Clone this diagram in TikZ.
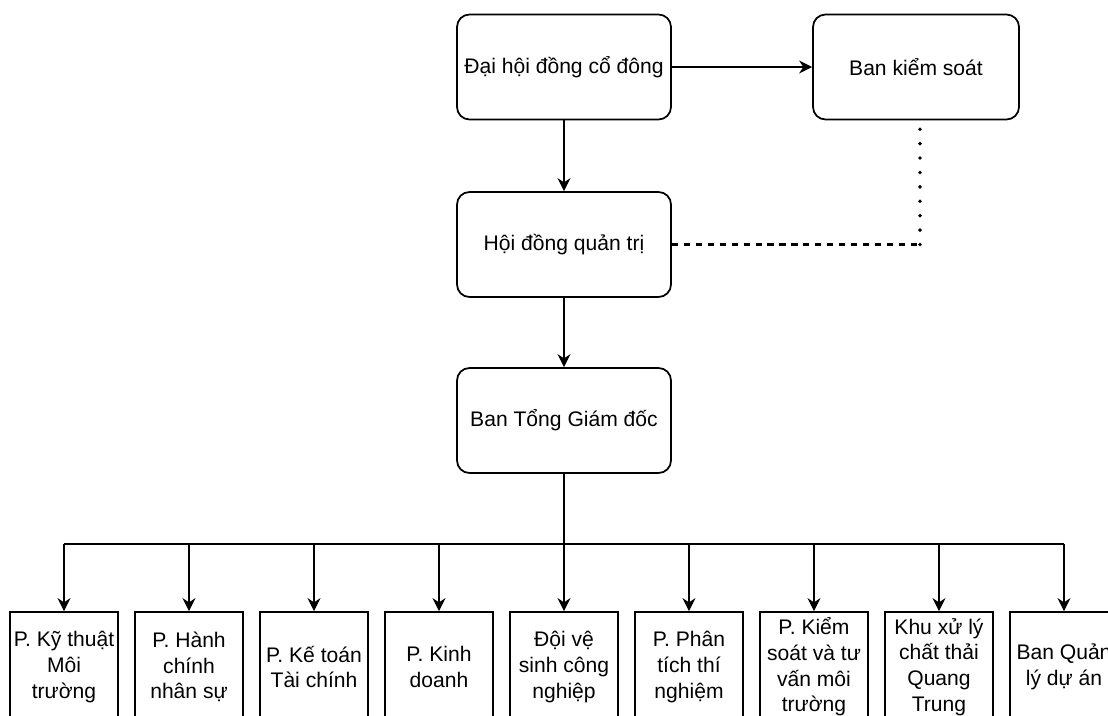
\documentclass[tikz,border=0pt]{standalone}
\usepackage{fontspec}
\setmainfont{Liberation Sans}
\usetikzlibrary{arrows.meta}
\tikzset{rbox/.style={rectangle,draw,rounded corners=0.25cm,minimum width=4.28cm,minimum height=2.1cm,line width=1pt,font=\fontsize{12}{14.8}\selectfont}}
\tikzset{pbox/.style={rectangle,draw,minimum width=2.16cm,minimum height=2.2cm,inner sep=0pt,align=center,line width=1pt,font=\fontsize{12}{14.6}\selectfont}}

\begin{document}
\begin{tikzpicture}[>={Stealth[length=2.6mm,width=2.6mm]},line width=0.8pt]
    \useasboundingbox (0,0) rectangle (22.16,-14.32);
    \node[rbox] (dh) at (11.28,-1.34) {Đại hội đồng cổ đông};
    \node[rbox,minimum width=4.12cm] (ks) at (18.32,-1.34) {Ban kiểm soát};
    \node[rbox] (hd) at (11.28,-4.89) {Hội đồng quản trị};
    \node[rbox] (tgd) at (11.28,-8.41) {Ban Tổng Giám đốc};
    \coordinate (bus) at (11.28,-10.88);
    \coordinate (kn) at (18.4,-4.89);

    \node[pbox] (p1) at (1.28,-13.34) {P. Kỹ thuật\\Môi\\trường};
    \node[pbox] (p2) at (3.78,-13.34) {P. Hành\\chính\\nhân sự};
    \node[pbox] (p3) at (6.28,-13.34) {P. Kế toán\\Tài chính};
    \node[pbox] (p4) at (8.78,-13.34) {P. Kinh\\doanh};
    \node[pbox] (p5) at (11.28,-13.34) {Đội vệ\\sinh công\\nghiệp};
    \node[pbox] (p6) at (13.78,-13.34) {P. Phân\\tích thí\\nghiệm};
    \node[pbox] (p7) at (16.28,-13.34) {P. Kiểm\\soát và tư\\vấn môi\\trường};
    \node[pbox] (p8) at (18.78,-13.34) {Khu xử lý\\chất thải\\Quang\\Trung};
    \node[pbox] (p9) at (21.28,-13.34) {Ban Quản\\lý dự án};

    \draw [->] (dh) to [] (ks);
    \draw [->] (dh) to [] (hd);
    \draw [->] (hd) to [] (tgd);
    \draw [line width=1.3pt,dash pattern=on 3.5pt off 3.3pt] (hd) to [] (kn);
    \draw [line width=2.2pt,line cap=round,dash pattern=on 0pt off 8.2pt,shorten >=0.12cm] (kn) to [] (kn |- ks.south);
    \draw [] (tgd) to [] (bus);
    \draw [] (p1.north |- bus) to [] (p9.north |- bus);
    \draw [->] (p1.north |- bus) to [] (p1);
    \draw [->] (p2.north |- bus) to [] (p2);
    \draw [->] (p3.north |- bus) to [] (p3);
    \draw [->] (p4.north |- bus) to [] (p4);
    \draw [->] (p5.north |- bus) to [] (p5);
    \draw [->] (p6.north |- bus) to [] (p6);
    \draw [->] (p7.north |- bus) to [] (p7);
    \draw [->] (p8.north |- bus) to [] (p8);
    \draw [->] (p9.north |- bus) to [] (p9);
\end{tikzpicture}
\end{document}
